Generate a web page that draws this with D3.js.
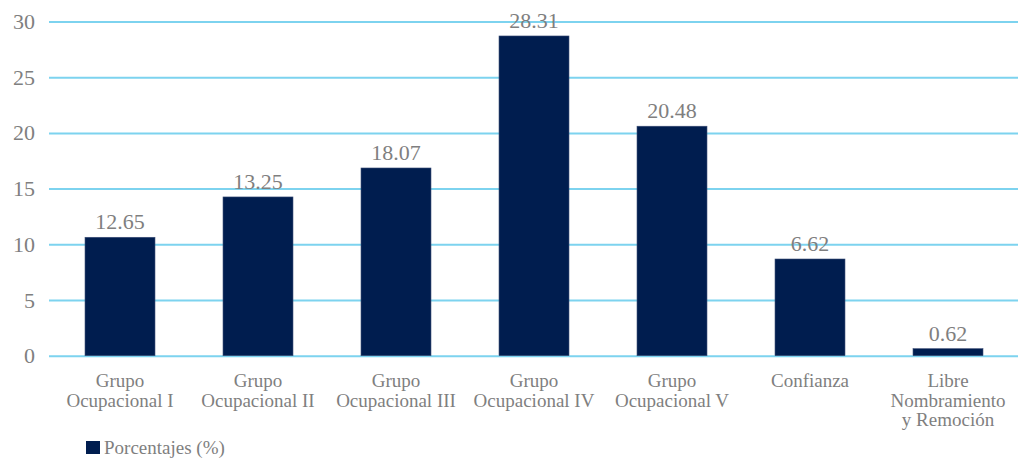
<!DOCTYPE html>
<html>
<head>
<meta charset="utf-8">
<script src="https://cdn.jsdelivr.net/npm/d3@7"></script>
<style>
  body { margin: 0; background: #fff; }
  svg text { font-family: "Liberation Serif", Tinos, "Times New Roman", "DejaVu Serif", serif !important; fill: #7f7f7f; }
</style>
</head>
<body>
<div id="chart"></div>
<script>
///// Data

// categories (lines of each label)
let categories = [
    ["Grupo", "Ocupacional I"],
    ["Grupo", "Ocupacional II"],
    ["Grupo", "Ocupacional III"],
    ["Grupo", "Ocupacional IV"],
    ["Grupo", "Ocupacional V"],
    ["Confianza"],
    ["Libre", "Nombramiento", "y Remoción"]
];

// bar heights as drawn in the picture
let barValues = [10.63, 14.25, 16.85, 28.7, 20.6, 8.68, 0.63];

// value labels printed above the bars
let valueLabels = ["12.65", "13.25", "18.07", "28.31", "20.48", "6.62", "0.62"];

let yTicks = [0, 5, 10, 15, 20, 25, 30];
let seriesName = "Porcentajes (%)";

///// Layout

let width = 1018, height = 460;
let plot = { left: 49, right: 1018, top: 21.5, bottom: 355.7 };
let serif = "Liberation Serif, Tinos, Times New Roman, DejaVu Serif, serif";

let svg = d3.select("#chart")
    .append("svg")
    .attr("width", width)
    .attr("height", height)
    .attr("font-family", serif);

// Set the ranges
let x = d3.scaleBand()
    .domain(d3.range(categories.length))
    .range([51, 1017])
    .paddingInner(0.493)
    .paddingOuter(0.2465);

let y = d3.scaleLinear()
    .domain([0, 30])
    .range([plot.bottom, plot.top]);

// gridlines + y labels
let yAxis = svg.append("g")
    .attr("transform", "translate(" + plot.left + ",0)")
    .call(d3.axisLeft(y)
        .tickValues(yTicks)
        .tickSize(-(plot.right - plot.left))
        .tickPadding(14));

yAxis.attr("font-family", serif);
yAxis.select(".domain").remove();
yAxis.selectAll(".tick line")
    .attr("stroke", "#7dd3ef")
    .attr("stroke-width", 2);
yAxis.selectAll(".tick text")
    .style("font-size", "22px")
    .attr("fill", "#7f7f7f");

// bars
svg.selectAll(".bar")
    .data(barValues)
    .enter().append("rect")
    .attr("class", "bar")
    .attr("x", function(d, i) { return x(i); })
    .attr("width", x.bandwidth())
    .attr("y", function(d) { return y(d); })
    .attr("height", function(d) { return y(0) - y(d); })
    .attr("fill", "#001d4f")
    .attr("stroke", "#3a4d75")
    .attr("stroke-width", 0.6);

// value labels
svg.selectAll(".val")
    .data(barValues)
    .enter().append("text")
    .attr("class", "val")
    .attr("x", function(d, i) { return x(i) + x.bandwidth() / 2; })
    .attr("y", function(d) { return y(d) - 8; })
    .attr("text-anchor", "middle")
    .style("font-size", "22px")
    .text(function(d, i) { return valueLabels[i]; });

// category labels
let cat = svg.selectAll(".cat")
    .data(categories)
    .enter().append("text")
    .attr("class", "cat")
    .attr("text-anchor", "middle")
    .style("font-size", "19px");

cat.selectAll("tspan")
    .data(function(d, i) { return d.map(function(s) { return { s: s, i: i }; }); })
    .enter().append("tspan")
    .attr("x", function(d) { return x(d.i) + x.bandwidth() / 2; })
    .attr("y", function(d, j) { return 387 + j * 19.7; })
    .text(function(d) { return d.s; });

// legend
let legend = svg.append("g").attr("transform", "translate(86,441)");
legend.append("rect")
    .attr("width", 14)
    .attr("height", 13)
    .attr("fill", "#001d4f");
legend.append("text")
    .attr("x", 18)
    .attr("y", 13)
    .style("font-size", "19px")
    .text(seriesName);
</script>
</body>
</html>
